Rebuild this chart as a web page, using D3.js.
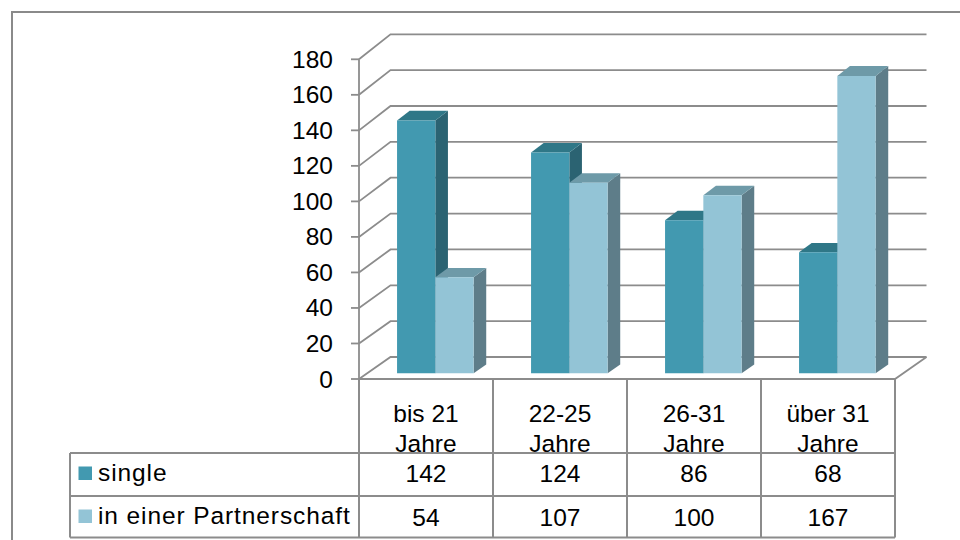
<!DOCTYPE html>
<html>
<head>
<meta charset="utf-8">
<script src="https://cdn.jsdelivr.net/npm/d3@7"></script>
<style>
  html, body { margin: 0; padding: 0; background: #fff; }
  svg { display: block; font-family: "Liberation Sans", Arial, sans-serif; }
</style>
</head>
<body>
<svg id="chart" width="960" height="540"></svg>
<script>
// Age groups (x categories) and the two series shown as 3D columns
const categories = ["bis 21 Jahre", "22-25 Jahre", "26-31 Jahre", "über 31 Jahre"];
const seriesNames = ["single", "in einer Partnerschaft"];
const singleValues = [142, 124, 86, 68];
const partnerValues = [54, 107, 100, 167];
const yTicks = [0, 20, 40, 60, 80, 100, 120, 140, 160, 180];

const seriesValues = [singleValues, partnerValues];
const colors = {
  front: ["#4299b0", "#93c4d6"],
  top:   ["#2f7787", "#6e9aa8"],
  side:  ["#2b6372", "#5e7d89"]
};
const gridColor = "#8c8c8c";
const fontSize = 24.5;

const svg = d3.select("#chart");

// Plot frame: front plane of the 3D box plus a receding depth
const plotLeft = 359, plotRight = 895;
const depthX = 31.5;
const yFront = d3.scaleLinear().domain([0, 180]).range([379, 59.3]);
const yBack  = d3.scaleLinear().domain([0, 180]).range([357, 34.3]);

// Project (x on the front plane, value, depth 0..1) to the screen
function P(x, v, t) {
  return [x + t * depthX, yFront(v) * (1 - t) + yBack(v) * t];
}

const x = d3.scaleBand().domain(categories).range([plotLeft, plotRight]);
const xs = d3.scaleBand().domain(seriesNames).range([0, x.bandwidth()])
  .paddingInner(0).paddingOuter(0.75).align(0.52);

// Outer chart border
svg.append("rect")
  .attr("x", 12).attr("y", 12).attr("width", 980).attr("height", 580)
  .attr("fill", "none").attr("stroke", "#8a8a8a").attr("stroke-width", 2);

// Side wall and back wall gridlines
const grid = svg.append("g").attr("fill", "none").attr("stroke", gridColor).attr("stroke-width", 1.8);
yTicks.forEach(v => {
  const a = P(plotLeft, v, 0), b = P(plotLeft, v, 1), c = P(plotRight, v, 1);
  grid.append("polyline").attr("points", [a, b, c].map(p => p.join(",")).join(" "));
});

// Floor edges
const f0 = P(plotLeft, 0, 0), f1 = P(plotRight, 0, 0), f2 = P(plotRight, 0, 1);
grid.append("polyline").attr("points", [f0, f1, f2].map(p => p.join(",")).join(" "));

// Vertical value axis with tick marks and labels
const axis = svg.append("g");
axis.append("line")
  .attr("x1", plotLeft).attr("x2", plotLeft)
  .attr("y1", yFront(0)).attr("y2", yFront(180))
  .attr("stroke", gridColor).attr("stroke-width", 1.8);
yTicks.forEach(v => {
  axis.append("line")
    .attr("x1", plotLeft - 8).attr("x2", plotLeft)
    .attr("y1", yFront(v)).attr("y2", yFront(v))
    .attr("stroke", gridColor).attr("stroke-width", 1.8);
  axis.append("text")
    .attr("x", 333).attr("y", yFront(v))
    .attr("text-anchor", "end").attr("dominant-baseline", "central")
    .attr("font-size", fontSize).attr("fill", "#000")
    .text(v);
});

// 3D columns: side face, top face, then front face
const t0 = 0.26, t1 = 0.66;
const bars = svg.append("g");
const poly = pts => pts.map(p => p.join(",")).join(" ");
categories.forEach((cat, ci) => {
  seriesNames.forEach((s, si) => {
    const v = seriesValues[si][ci];
    const x0 = x(cat) + xs(s), x1 = x0 + xs.bandwidth();
    bars.append("polygon")
      .attr("points", poly([P(x1, 0, t0), P(x1, 0, t1), P(x1, v, t1), P(x1, v, t0)]))
      .attr("fill", colors.side[si]);
    bars.append("polygon")
      .attr("points", poly([P(x0, v, t0), P(x1, v, t0), P(x1, v, t1), P(x0, v, t1)]))
      .attr("fill", colors.top[si]);
    bars.append("polygon")
      .attr("points", poly([P(x0, 0, t0), P(x1, 0, t0), P(x1, v, t0), P(x0, v, t0)]))
      .attr("fill", colors.front[si]);
  });
});

// Data table below the plot
const tableTop = yFront(0), rowA = 453, rowB = 496, tableBottom = 537.5, legendLeft = 70;
const table = svg.append("g");
const lineStyle = sel => sel.attr("stroke", gridColor).attr("stroke-width", 2);

// Category header cells and value cells
categories.forEach((cat, ci) => {
  const cx = x(cat) + x.bandwidth() / 2;
  const split = cat.lastIndexOf(" ");
  const lines = [cat.slice(0, split), cat.slice(split + 1)];
  lines.forEach((ln, i) => {
    table.append("text")
      .attr("x", cx).attr("y", 422 + i * 29.5)
      .attr("text-anchor", "middle").attr("font-size", fontSize).attr("fill", "#000")
      .text(ln);
  });
  seriesNames.forEach((s, si) => {
    table.append("text")
      .attr("x", cx).attr("y", si === 0 ? 482 : 525.5)
      .attr("text-anchor", "middle").attr("font-size", fontSize).attr("fill", "#000")
      .text(seriesValues[si][ci]);
  });
});

// Legend keys in the row headers
seriesNames.forEach((s, si) => {
  const rowTop = si === 0 ? rowA : rowB;
  table.append("rect")
    .attr("x", 78.5).attr("y", rowTop + 13.5).attr("width", 13.5).attr("height", 13.5)
    .attr("fill", colors.front[si]);
  table.append("text")
    .attr("x", 98).attr("y", si === 0 ? 481 : 523.5)
    .attr("font-size", fontSize).attr("letter-spacing", 0.9).attr("fill", "#000")
    .text(s);
});

// Grid of the table
[rowA, rowB, tableBottom].forEach(yy => {
  table.append("line").attr("x1", legendLeft).attr("x2", plotRight)
    .attr("y1", yy).attr("y2", yy).call(lineStyle);
});
table.append("line").attr("x1", legendLeft).attr("x2", legendLeft)
  .attr("y1", rowA).attr("y2", tableBottom).call(lineStyle);
categories.concat([null]).forEach(cat => {
  const xx = cat === null ? plotRight : x(cat);
  table.append("line").attr("x1", xx).attr("x2", xx)
    .attr("y1", tableTop).attr("y2", tableBottom).call(lineStyle);
});
</script>
</body>
</html>
